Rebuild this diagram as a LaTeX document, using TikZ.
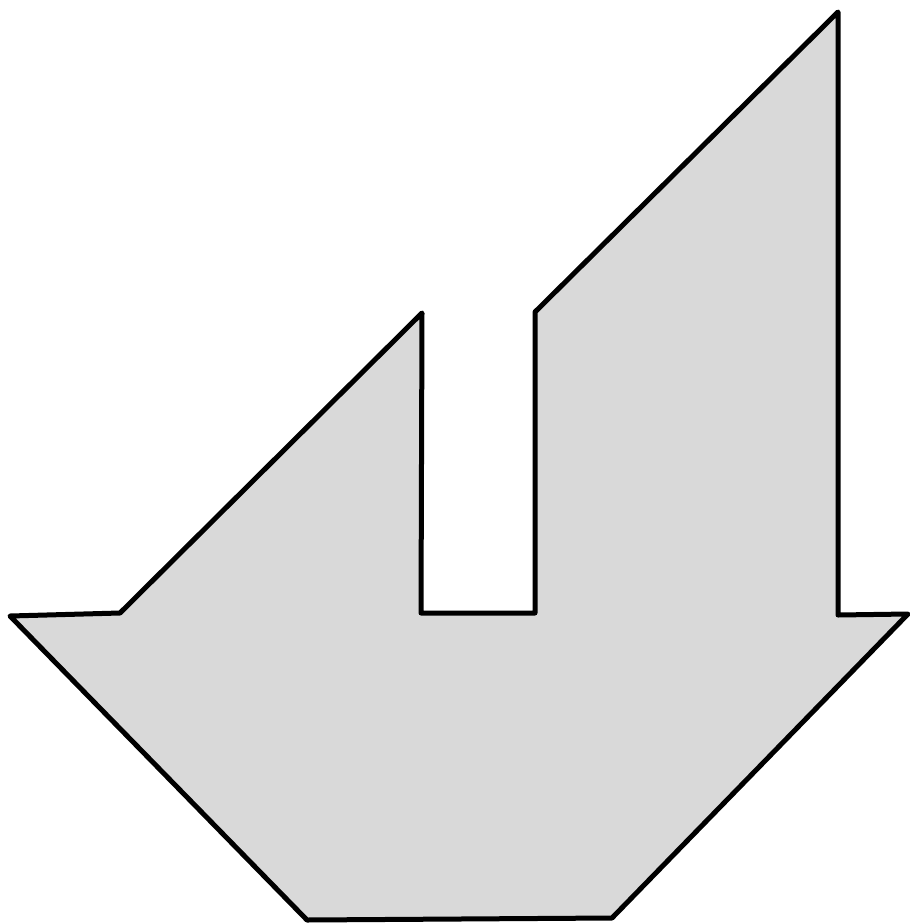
\documentclass[tikz,border=0pt]{standalone}
\begin{document}
\begin{tikzpicture}[x=1pt,y=-1pt,
  shapestyle/.style={draw=black,fill=black!15,line width=5pt,line join=round,line cap=round}]
\useasboundingbox (0,0) rectangle (910,924);
\draw[shapestyle] (838,12) -- (838,615) -- (908,614) -- (612,918) -- (307,920) -- (10,616) -- (120,613) -- (422,313) -- (421,613) -- (535,613) -- (535,312) -- cycle;
\end{tikzpicture}
\end{document}
